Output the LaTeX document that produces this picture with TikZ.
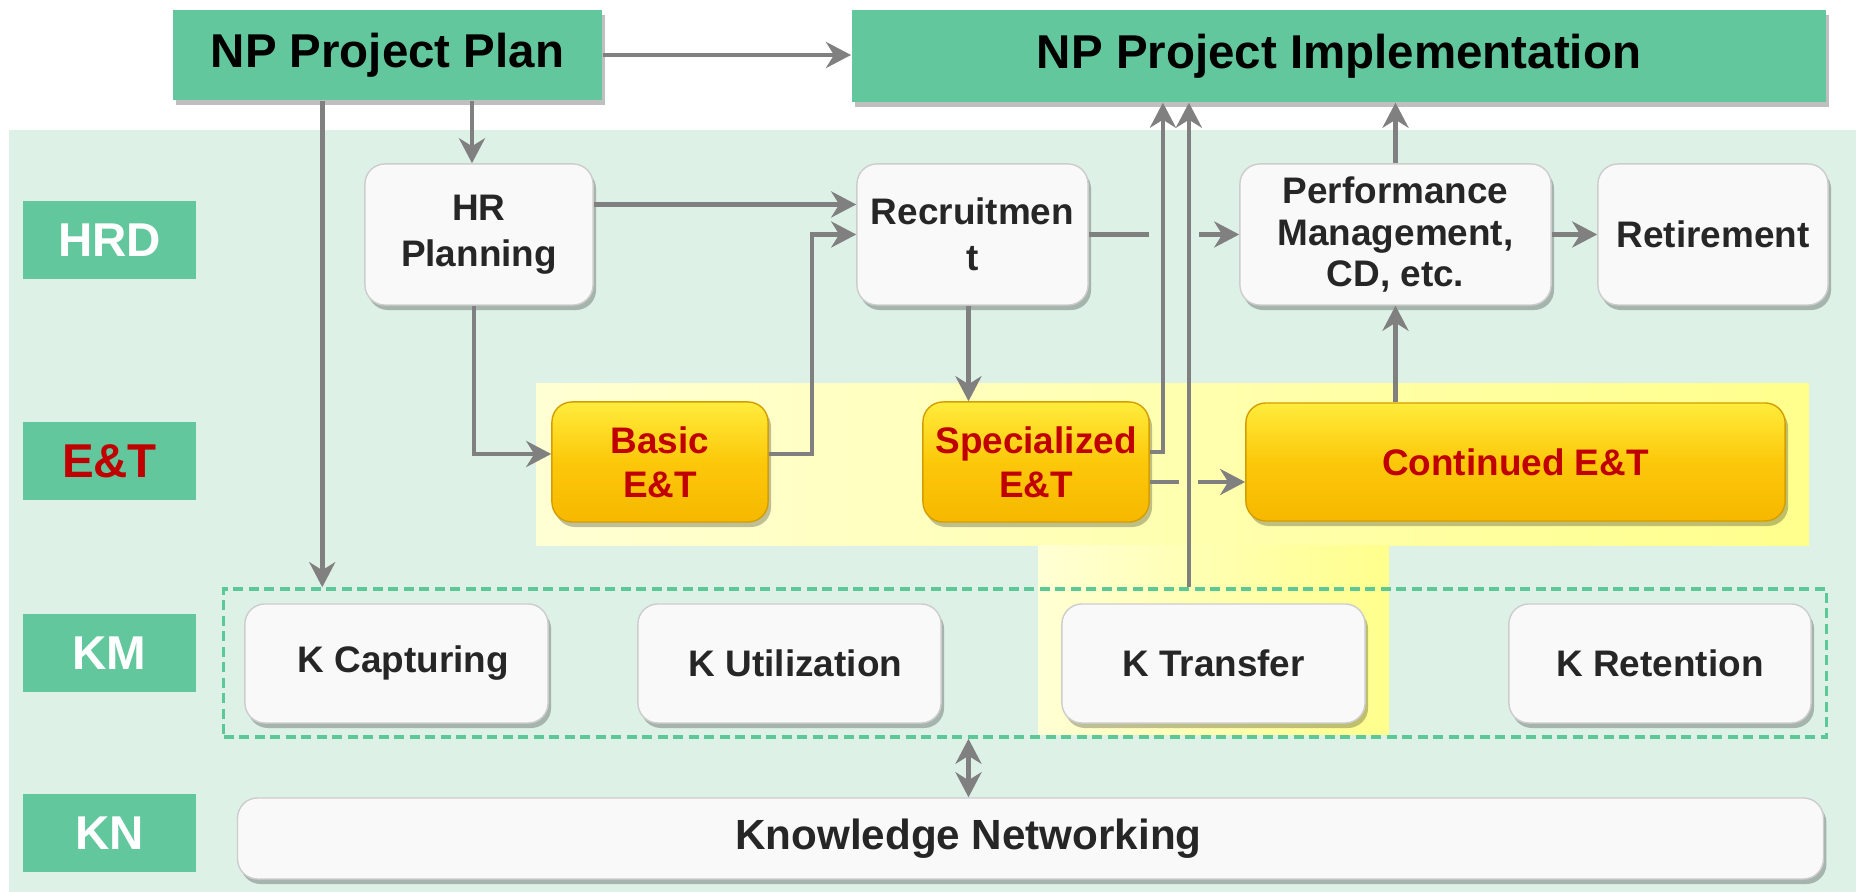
\documentclass[tikz,border=0pt]{standalone}
\usepackage{fontspec}
\setmainfont{Liberation Sans}
\usepackage{tikz}
\usetikzlibrary{positioning,arrows.meta,shadows,calc}
\usepackage{xcolor}

\definecolor{npgreen}{RGB}{99,199,158}
\definecolor{panelmint}{RGB}{221,241,231}
\definecolor{boxwhite}{RGB}{249,249,249}
\definecolor{boxedge}{RGB}{205,205,205}
\definecolor{etred}{RGB}{192,0,0}
\definecolor{goldtop}{RGB}{255,236,60}
\definecolor{goldmid}{RGB}{252,200,10}
\definecolor{goldbot}{RGB}{246,184,0}
\definecolor{goldedge}{RGB}{212,158,0}
\definecolor{paleyellow}{RGB}{255,255,212}
\definecolor{hotyellow}{RGB}{255,255,140}
\definecolor{arrowgray}{RGB}{128,128,128}
\definecolor{dashgreen}{RGB}{92,200,151}
\definecolor{txtdark}{RGB}{38,38,38}

\tikzset{
  softshadow/.style={drop shadow={shadow xshift=0.03cm, shadow yshift=-0.05cm, fill=black, opacity=0.25}},
  headbox/.style={fill=npgreen, inner sep=0pt, font=\fontsize{13.5}{16}\selectfont\bfseries, softshadow},
  lanebox/.style={fill=npgreen, text=white, inner sep=0pt, minimum width=1.73cm, minimum height=0.78cm,
    font=\fontsize{13.5}{16}\selectfont\bfseries},
  stagebox/.style={rounded corners=0.2cm, fill=boxwhite, draw=boxedge, line width=0.4pt, text=txtdark,
    inner sep=0pt, align=center, minimum height=1.41cm, font=\fontsize{10.5}{13}\selectfont\bfseries, softshadow},
  goldbox/.style={rounded corners=0.2cm, top color=goldtop, bottom color=goldbot, middle color=goldmid,
    draw=goldedge, line width=0.4pt, text=etred, inner sep=0pt, align=center, minimum height=1.2cm,
    font=\fontsize{10.5}{12.5}\selectfont\bfseries, softshadow},
  kbox/.style={stagebox, minimum width=3.03cm, minimum height=1.19cm},
  link/.style={draw=arrowgray, line width=0.045cm},
  linkarrow/.style={link, -{Stealth[length=0.25cm, width=0.26cm, inset=0.08cm]}},
  linkboth/.style={link, {Stealth[length=0.25cm, width=0.26cm, inset=0.08cm]}-{Stealth[length=0.25cm, width=0.26cm, inset=0.08cm]}},
}

\begin{document}
\begin{tikzpicture}[x=0.01cm, y=-0.01cm]
\useasboundingbox (0,0) rectangle (1856,892);

%====================================================
% FONDOS: PANEL VERDE Y ZONA AMARILLA
%====================================================
\fill[white] (0,0) rectangle (1856,892);
\fill[panelmint] (9,130) rectangle (1856,892);
\fill[left color=paleyellow, right color=hotyellow] (536,384) rectangle (1809,546);
\fill[left color=paleyellow, right color=hotyellow] (1038,546) rectangle (1389,735);

%====================================================
% PROYECTO
%====================================================
\node[headbox, minimum width=4.29cm, minimum height=0.9cm] (plan) at (387.5,55) {NP Project Plan};
\node[headbox, minimum width=9.74cm, minimum height=0.92cm] (impl) at (1339,56) {NP Project Implementation};

%====================================================
% CARRILES
%====================================================
\node[lanebox] (hrd) at (109.5,240) {HRD};
\node[lanebox, text=etred] (et) at (109.5,461) {E\&T};
\node[lanebox] (km) at (109.5,653) {KM};
\node[lanebox] (kn) at (109.5,833) {KN};

%====================================================
% HRD
%====================================================
\node[stagebox, minimum width=2.28cm] (hrplan) at (479,234.5) {HR\\Planning};
\node[stagebox, minimum width=2.31cm] (recruit) at (972.5,234.5) {Recruitmen\\t};
\node[stagebox, minimum width=3.11cm, font=\fontsize{10.5}{11.8}\selectfont\bfseries] (perf) at (1395.5,234.5) {Performance\\Management,\\CD, etc.};
\node[stagebox, minimum width=2.3cm] (retire) at (1713,234.5) {Retirement};

%====================================================
% E&T
%====================================================
\node[goldbox, minimum width=2.16cm] (basic) at (660,462) {Basic\\E\&T};
\node[goldbox, minimum width=2.26cm] (special) at (1036,462) {Specialized\\E\&T};
\node[goldbox, minimum width=5.39cm, minimum height=1.18cm] (contin) at (1515.5,462) {Continued E\&T};

%====================================================
% KM Y KN
%====================================================
\node[draw=dashgreen, line width=0.035cm, dash pattern=on 0.1cm off 0.055cm,
  minimum width=16.02cm, minimum height=1.48cm, inner sep=0pt] (kmframe) at (1025,663) {};
\node[kbox] (kcap) at (396.5,663.5) {\hspace*{0.14cm}K Capturing};
\node[kbox] (kutil) at (789.5,663.5) {\hspace*{0.12cm}K Utilization};
\node[kbox] (ktrans) at (1213.5,663.5) {K Transfer};
\node[kbox, minimum width=3.02cm] (kret) at (1660,663.5) {K Retention};
\node[stagebox, minimum width=15.85cm, minimum height=0.81cm, font=\fontsize{12}{14}\selectfont\bfseries] (knet) at (1030.5,838.5) {\hspace*{-1.24cm}Knowledge Networking};

%====================================================
% FLECHAS
%====================================================
\draw[linkarrow] (plan.east) -- (plan.east -| impl.west);
\draw[linkarrow] ([xshift=-0.07cm]hrplan.north |- plan.south) -- ([xshift=-0.07cm]hrplan.north);
\draw[linkarrow] ([xshift=1.5cm]plan.south west) -- ([xshift=1.5cm]plan.south west |- kmframe.north);
\draw[linkarrow] ([yshift=0.3cm]hrplan.east) -- ([yshift=0.3cm]recruit.west);
\draw[linkarrow] ([xshift=-0.05cm]hrplan.south) |- ([yshift=0.08cm]basic.west);
\draw[linkarrow] ([yshift=0.08cm]basic.east) -- ++(0.43cm,0) |- (recruit.west);
\draw[linkarrow] ([xshift=-0.04cm]recruit.south) -- ([xshift=-0.04cm]recruit.south |- special.north);
\draw[link] (recruit.east) -- ++(0.6cm,0);
\draw[linkarrow] ([xshift=-0.4cm]perf.west) -- (perf.west);
\draw[linkarrow] (perf.east) -- (retire.west);
\draw[linkarrow] ([yshift=0.1cm]special.east) -| ([xshift=-1.76cm]impl.south);
\draw[link] ([yshift=-0.2cm]special.east) -- ++(0.29cm,0);
\draw[linkarrow] ([xshift=-0.47cm,yshift=-0.2cm]contin.west) -- ([yshift=-0.2cm]contin.west);
\draw[linkarrow] ([xshift=-1.5cm]impl.south |- kmframe.north) -- ([xshift=-1.5cm]impl.south);
\draw[linkarrow] (perf.south |- contin.north) -- (perf.south);
\draw[linkarrow] (perf.north) -- (perf.north |- impl.south);
\draw[linkboth] ([xshift=-0.04cm]recruit.south |- kmframe.south) -- ([xshift=-0.04cm]recruit.south |- knet.north);
\end{tikzpicture}
\end{document}
